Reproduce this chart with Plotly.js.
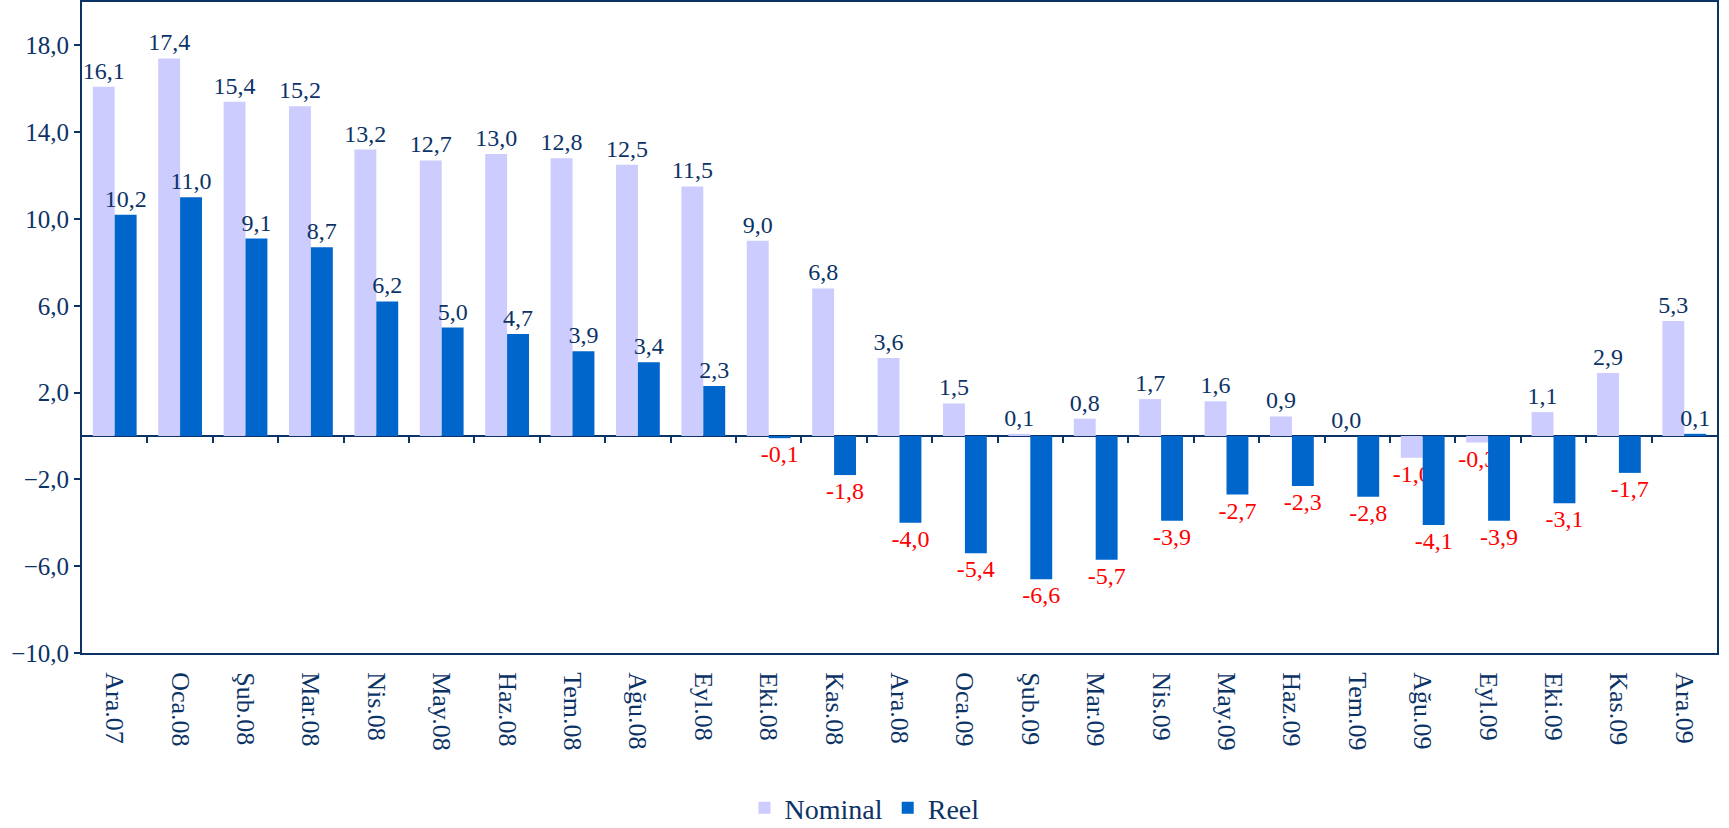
<!DOCTYPE html>
<html>
<head>
<meta charset="utf-8">
<script src="https://cdn.plot.ly/plotly-3.0.1.min.js"></script>
<style>
  html, body { margin: 0; padding: 0; background: #ffffff; }
  #chart { width: 1729px; height: 828px; }
</style>
</head>
<body>
<div id="chart"></div>
<script>
const categories = ["Ara.07","Oca.08","Şub.08","Mar.08","Nis.08","May.08","Haz.08","Tem.08","Ağu.08","Eyl.08","Eki.08","Kas.08","Ara.08","Oca.09","Şub.09","Mar.09","Nis.09","May.09","Haz.09","Tem.09","Ağu.09","Eyl.09","Eki.09","Kas.09","Ara.09"];
const nominal = [16.1, 17.4, 15.4, 15.2, 13.2, 12.7, 13.0, 12.8, 12.5, 11.5, 9.0, 6.8, 3.6, 1.5, 0.1, 0.8, 1.7, 1.6, 0.9, 0.0, -1.0, -0.3, 1.1, 2.9, 5.3];
const reel = [10.2, 11.0, 9.1, 8.7, 6.2, 5.0, 4.7, 3.9, 3.4, 2.3, -0.1, -1.8, -4.0, -5.4, -6.6, -5.7, -3.9, -2.7, -2.3, -2.8, -4.1, -3.9, -3.1, -1.7, 0.1];
const seriesNames = ["Nominal", "Reel"];

const NAVY = "#0c3366";
const RED = "#ff0000";
const SERIF = "Liberation Serif, Times New Roman, serif";
const fmt = v => v.toFixed(1).replace(".", ",");
const labelColors = arr => arr.map(v => (v < 0 ? RED : NAVY));

const yMin = -10, yMax = 20;
const zeroPos = (0 - yMin) / (yMax - yMin);
const boundaries = categories.slice(0, -1).map((_, i) => i + 0.5);

const traces = [
  {
    type: "bar", name: seriesNames[0], x: categories, y: nominal,
    marker: { color: "#ccccff" },
    text: nominal.map(fmt), textposition: "outside", cliponaxis: false,
    constraintext: "none",
    textfont: { family: SERIF, size: 24, color: labelColors(nominal) },
    hoverinfo: "x+y"
  },
  {
    type: "bar", name: seriesNames[1], x: categories, y: reel,
    marker: { color: "#0066cc" },
    text: reel.map(fmt), textposition: "outside", cliponaxis: false,
    constraintext: "none",
    textfont: { family: SERIF, size: 24, color: labelColors(reel) },
    hoverinfo: "x+y"
  },
  {
    type: "scatter", mode: "markers", x: [], y: [], xaxis: "x2", yaxis: "y",
    showlegend: false, hoverinfo: "skip"
  }
];

const layout = {
  width: 1729, height: 828,
  margin: { l: 82, r: 12, t: 2, b: 175 },
  paper_bgcolor: "#ffffff", plot_bgcolor: "#ffffff",
  separators: ",.",
  barmode: "group", bargap: 0.33, bargroupgap: 0,
  font: { family: SERIF, color: NAVY },
  showlegend: true,
  legend: {
    orientation: "h", xref: "container", yref: "container",
    x: 0.5, xanchor: "center", y: 0.024, yanchor: "middle",
    font: { family: SERIF, size: 28, color: NAVY },
    itemwidth: 30, traceorder: "normal"
  },
  xaxis: {
    type: "category", categoryarray: categories, categoryorder: "array",
    showline: true, linecolor: NAVY, linewidth: 2, mirror: true,
    ticks: "", tickangle: 90, ticklabelstandoff: 12,
    tickfont: { family: SERIF, size: 26, color: NAVY },
    showgrid: false, zeroline: false, automargin: false
  },
  xaxis2: {
    overlaying: "x", anchor: "free", position: zeroPos, side: "bottom",
    type: "linear", range: [-0.5, categories.length - 0.5], autorange: false,
    tickmode: "array", tickvals: boundaries,
    ticks: "outside", ticklen: 6, tickwidth: 2, tickcolor: NAVY,
    showticklabels: false, showline: false, showgrid: false, zeroline: false
  },
  yaxis: {
    range: [yMin, yMax], tick0: -10, dtick: 4, tickformat: ".1f",
    showline: true, linecolor: NAVY, linewidth: 2, mirror: true,
    ticks: "outside", ticklen: 6, tickwidth: 2, tickcolor: NAVY,
    tickfont: { family: SERIF, size: 25, color: NAVY },
    showgrid: false, automargin: false,
    zeroline: true, zerolinecolor: NAVY, zerolinewidth: 2
  }
};

Plotly.newPlot("chart", traces, layout, { displayModeBar: false, staticPlot: true });
</script>
</body>
</html>
